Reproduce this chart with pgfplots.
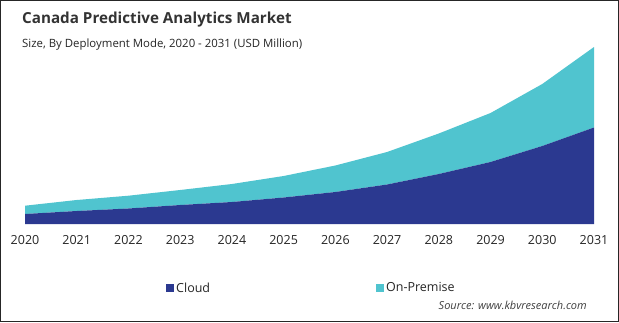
\documentclass[border=0pt]{standalone}
\usepackage{pgfplots}
\pgfplotsset{compat=1.18}
\usepackage{fontspec}
\setmainfont{Open Sans}
\definecolor{cloud}{HTML}{2B3990}
\definecolor{onprem}{HTML}{50C4CF}
\definecolor{txt}{HTML}{262626}
\begin{document}
\begin{tikzpicture}[x=1pt,y=1pt]
\fill[white] (0,0) rectangle (619,322);
\draw[line width=1.4pt, color=black!85] (0.7,0.7) rectangle (618.3,321.3);
\node[anchor=west, font=\fontsize{15.2}{18}\selectfont\bfseries, text=black!80, inner sep=0] at (22,302) {Canada Predictive Analytics Market};
\node[anchor=west, font=\fontsize{11.4}{13}\selectfont, text=txt, inner sep=0] at (22,277) {Size, By Deployment Mode,\ 2020 - 2031 (USD Million)};
\node[anchor=east, font=\fontsize{11}{13}\selectfont\itshape, text=black!75, inner sep=0] at (587,17) {Source: www.kbvresearch.com};
\begin{axis}[
  at={(25pt,98pt)}, anchor=south west, scale only axis,
  width=569pt, height=177pt,
  xmin=2020, xmax=2031, ymin=0, ymax=177,
  stack plots=y,
  axis line style={draw=none}, major tick length=0pt, ytick=\empty,
  xtick={2020,2021,2022,2023,2024,2025,2026,2027,2028,2029,2030,2031},
  xticklabels={2020,2021,2022,2023,2024,2025,2026,2027,2028,2029,2030,2031},
  xticklabel style={font=\fontsize{12.5}{14}\selectfont, text=txt, yshift=-8pt},
  clip=false,
  legend columns=2,
  legend style={at={(0.2478,-0.3616)}, anchor=west, draw=none, fill=none, inner sep=0pt,
    font=\fontsize{12.5}{14}\selectfont, text=txt,
    /tikz/every even column/.append style={column sep=164pt}},
  legend cell align=left,
  legend image code/.code={\fill[#1] (0pt,-4pt) rectangle (8pt,4pt);},
]
\addplot[fill=cloud, draw=none] coordinates {
(2020,10) (2021,13) (2022,15.5) (2023,19) (2024,22) (2025,26.5) (2026,32) (2027,39.5) (2028,50) (2029,62) (2030,78) (2031,96.5)
} \closedcycle;
\addlegendentry{Cloud}
\addplot[fill=onprem, draw=none] coordinates {
(2020,8.3) (2021,11) (2022,12.8) (2023,15) (2024,18) (2025,21.5) (2026,26.5) (2027,32.5) (2028,40.5) (2029,49) (2030,62) (2031,80.5)
} \closedcycle;
\addlegendentry{On-Premise}
\end{axis}
\end{tikzpicture}
\end{document}
